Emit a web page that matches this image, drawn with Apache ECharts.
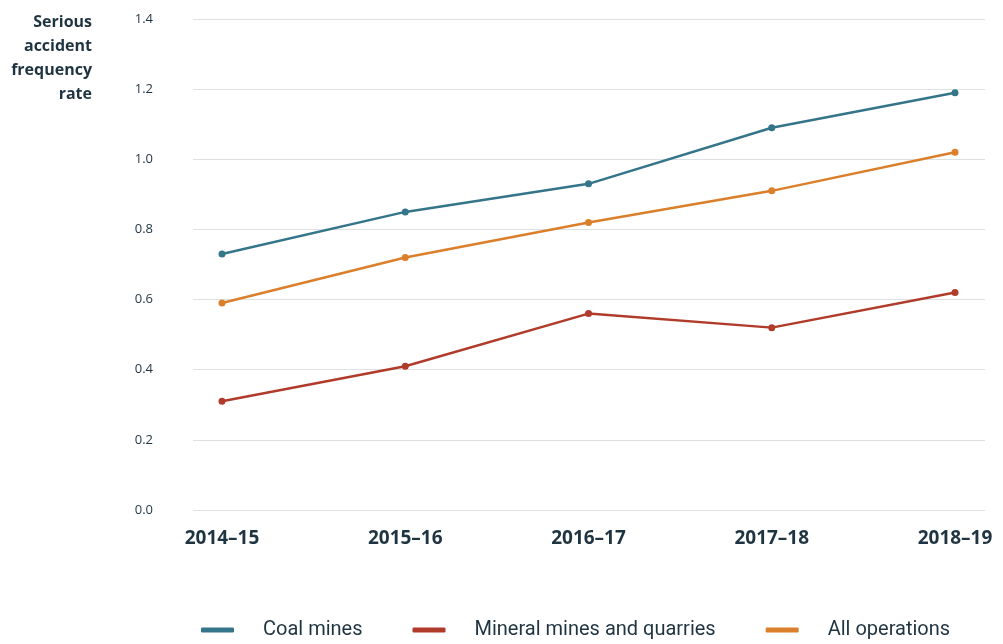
<!DOCTYPE html>
<html>
<head>
<meta charset="utf-8">
<script src="https://cdn.jsdelivr.net/npm/echarts@6/dist/echarts.min.js"></script>
<style>
  html, body { margin: 0; padding: 0; background: #fff; }
  #chart { width: 1003px; height: 644px; }
</style>
</head>
<body>
<div id="chart"></div>
<script>
var years = ['2014–15', '2015–16', '2016–17', '2017–18', '2018–19'];
var coalMines = [0.73, 0.85, 0.93, 1.09, 1.19];
var mineralMines = [0.31, 0.41, 0.56, 0.52, 0.62];
var allOperations = [0.59, 0.72, 0.82, 0.91, 1.02];

var textDark = '#1f3441';
var font = '"Open Sans", sans-serif';

var chart = echarts.init(document.getElementById('chart'));

function line(name, data, color) {
    return {
        name: name,
        type: 'line',
        xAxisIndex: 1,
        yAxisIndex: 1,
        data: data,
        symbol: 'circle',
        symbolSize: 7,
        lineStyle: { color: color, width: 2.5 },
        itemStyle: { color: color },
        emphasis: { disabled: true }
    };
}

chart.setOption({
    animation: false,
    textStyle: { fontFamily: font },
    graphic: [{
        type: 'text',
        x: 92,
        y: 10,
        style: {
            text: 'Serious\naccident\nfrequency\nrate',
            align: 'right',
            fill: textDark,
            font: 'bold 16px "Open Sans", sans-serif',
            lineHeight: 24
        }
    }],
    grid: [
        { left: 193, right: 18, top: 19, bottom: 134 },
        { left: 222, right: 48, top: 19, bottom: 134 }
    ],
    xAxis: [{
        gridIndex: 0,
        type: 'category',
        data: years,
        show: false
    }, {
        gridIndex: 1,
        type: 'category',
        data: years,
        boundaryGap: false,
        axisLine: { show: false },
        axisTick: { show: false },
        axisLabel: {
            color: textDark,
            fontWeight: 'bold',
            fontSize: 19,
            margin: 19
        }
    }],
    yAxis: [{
        gridIndex: 0,
        type: 'value',
        min: 0,
        max: 1.4,
        interval: 0.2,
        axisLine: { show: false },
        axisTick: { show: false },
        splitLine: { lineStyle: { color: '#dde1e4', width: 1 } },
        axisLabel: {
            color: textDark,
            fontSize: 13,
            margin: 40,
            formatter: function (v) { return v.toFixed(1); }
        }
    }, {
        gridIndex: 1,
        type: 'value',
        min: 0,
        max: 1.4,
        interval: 0.2,
        show: false
    }],
    legend: {
        left: 196,
        bottom: -1,
        itemGap: 50,
        itemWidth: 33,
        itemHeight: 5,
        icon: 'roundRect',
        textStyle: {
            color: textDark,
            fontSize: 20,
            fontFamily: 'Roboto, sans-serif',
            padding: [0, 0, 0, 24]
        },
        data: ['Coal mines', 'Mineral mines and quarries', 'All operations']
    },
    series: [
        line('Coal mines', coalMines, '#35758a'),
        line('Mineral mines and quarries', mineralMines, '#b13b2b'),
        line('All operations', allOperations, '#db7f2b')
    ]
});
</script>
</body>
</html>
